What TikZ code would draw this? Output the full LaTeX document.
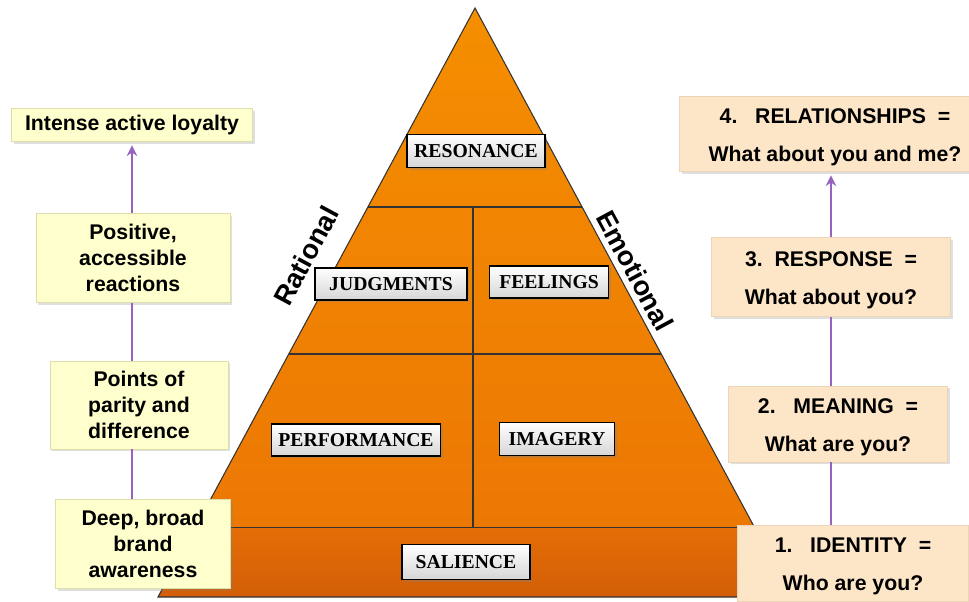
\documentclass[tikz,border=0pt]{standalone}
\usepackage{fontspec}
\setmainfont{Liberation Sans}
\newfontfamily\timesfont{Liberation Serif}
\usetikzlibrary{calc,shadows,arrows.meta}

\definecolor{pyrtop}{RGB}{245,142,0}
\definecolor{pyrbot}{RGB}{236,120,4}
\definecolor{bandtop}{RGB}{230,110,8}
\definecolor{bandbot}{RGB}{210,94,6}
\definecolor{pale}{RGB}{255,255,206}
\definecolor{paleline}{RGB}{222,222,170}
\definecolor{peach}{RGB}{253,230,200}
\definecolor{peachline}{RGB}{236,212,182}
\definecolor{stem}{RGB}{150,100,190}

\tikzset{
	level/.style={draw=black, line width=0.6pt, top color=white, bottom color=gray!32,
		drop shadow={opacity=0.35, shadow xshift=1.4pt, shadow yshift=-1.4pt},
		font=\timesfont\bfseries\fontsize{11.2}{12}\selectfont, inner sep=0pt},
	goal/.style={draw=paleline, line width=0.5pt, fill=pale, align=center,
		drop shadow={opacity=0.25, shadow xshift=1.4pt, shadow yshift=-1.4pt},
		font=\bfseries\fontsize{12.1}{14.7}\selectfont, inner sep=0pt},
	stage/.style={draw=peachline, line width=0.5pt, fill=peach, align=center,
		drop shadow={opacity=0.25, shadow xshift=1.4pt, shadow yshift=-1.4pt},
		font=\bfseries\fontsize{12.1}{22}\selectfont, inner sep=0pt},
	side/.style={font=\bfseries\fontsize{15.5}{18}\selectfont},
	link/.style={draw=stem, line width=0.8pt},
	up/.style={link, -{Stealth[length=6pt,width=6pt]}, shorten >=2pt}
}

\begin{document}
\begin{tikzpicture}[x=0.02cm, y=-0.02cm]
	\useasboundingbox (0,0) rectangle (969,601);

	\coordinate (apex) at (475,8);
	\coordinate (bl) at (158,597);
	\coordinate (br) at (792,597);
	\coordinate (l1) at ($(apex)!0.3379!(bl)$);
	\coordinate (r1) at ($(apex)!0.3379!(br)$);
	\coordinate (l2) at ($(apex)!0.5874!(bl)$);
	\coordinate (r2) at ($(apex)!0.5874!(br)$);
	\coordinate (l3) at ($(apex)!0.8812!(bl)$);
	\coordinate (r3) at ($(apex)!0.8812!(br)$);

	\shade[top color=pyrtop, bottom color=pyrbot] (apex) -- (l3) -- (r3) -- cycle;
	\shade[top color=bandtop, bottom color=bandbot] (l3) -- (bl) -- (br) -- (r3) -- cycle;
	\draw[line width=0.6pt, black!80] (apex) -- (bl) -- (br) -- cycle;
	\draw[line width=0.6pt, black!80] (l1) -- (r1);
	\draw[line width=0.6pt, black!80] (l2) -- (r2);
	\draw[line width=0.6pt, black!80] (l3) -- (r3);
	\draw[line width=0.6pt, black!80] (l1 -| 473,0) -- (l3 -| 473,0);

	\node[level, minimum width=2.76cm, minimum height=0.66cm] (resonance) at (476,151) {RESONANCE};
	\node[level, minimum width=3.04cm, minimum height=0.64cm] (judgments) at (391,284) {JUDGMENTS};
	\node[level, minimum width=2.38cm, minimum height=0.64cm] (feelings) at (549,282) {FEELINGS};
	\node[level, minimum width=3.38cm, minimum height=0.64cm] (performance) at (356,440) {PERFORMANCE};
	\node[level, minimum width=2.30cm, minimum height=0.66cm] (imagery) at (557,439) {IMAGERY};
	\node[level, minimum width=2.56cm, minimum height=0.70cm] (salience) at (466,562) {SALIENCE};

	\node[side, rotate=61.7] (rational) at (306,256) {Rational};
	\node[side, rotate=-61.7] (emotional) at (635,271) {Emotional};

	\node[goal, minimum width=4.82cm, minimum height=0.66cm] (loyalty) at (132,125) {Intense active loyalty};
	\node[goal, minimum width=3.88cm, minimum height=1.78cm] (reactions) at (133,258) {Positive,\\accessible\\reactions};
	\node[goal, minimum width=3.56cm, minimum height=1.76cm] (parity) at (139,405) {Points of\\parity and\\difference};
	\node[goal, minimum width=3.50cm, minimum height=1.78cm] (awareness) at (143,544) {Deep, broad\\brand\\awareness};

	\node[stage, minimum width=6.24cm, minimum height=1.50cm] (relationships) at (835,134) {\rule{0pt}{12pt}4.\ \ \ RELATIONSHIPS\ \ =\\What about you and me?};
	\node[stage, minimum width=4.78cm, minimum height=1.58cm] (response) at (831,277) {\rule{0pt}{12pt}3.\ \ RESPONSE\ \ =\\What about you?};
	\node[stage, minimum width=4.38cm, minimum height=1.52cm] (meaning) at (838,424) {\rule{0pt}{12pt}2.\ \ \ MEANING\ \ =\\What are you?};
	\node[stage, minimum width=4.62cm, minimum height=1.52cm] (identity) at (853,563) {\rule{0pt}{12pt}1.\ \ \ IDENTITY\ \ =\\Who are you?};

	\draw[link] (awareness.north -| 132,0) -- (parity.south -| 132,0);
	\draw[link] (parity.north -| 132,0) -- (reactions.south -| 132,0);
	\draw[up] (reactions.north -| 132,0) -- (loyalty.south -| 132,0);

	\draw[link] (identity.north -| 831,0) -- (meaning.south -| 831,0);
	\draw[link] (meaning.north -| 831,0) -- (response.south -| 831,0);
	\draw[up] (response.north -| 831,0) -- (relationships.south -| 831,0);
\end{tikzpicture}
\end{document}
